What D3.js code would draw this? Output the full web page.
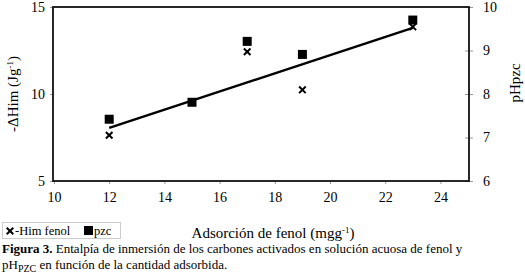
<!DOCTYPE html>
<html>
<head>
<meta charset="utf-8">
<script src="https://cdn.jsdelivr.net/npm/d3@7"></script>
<style>
body{margin:0;background:#fff}
</style>
</head>
<body>
<div id="chart"></div>
<script>
// data
const adsorcion=[12,15,17,19,23]
const himFenol=[7.63,9.53,12.43,10.24,13.86]
const pzc=[7.42,7.81,9.21,8.91,9.70]
const trendX=[12,23]
const trendY=[8.05,13.8]
const xTicks=[10,12,14,16,18,20,22,24]
const yTicks=[5,10,15]
const y2Ticks=[6,7,8,9,10]

const width=525,height=280
const plot={left:53,right:469,top:7,bottom:181}
const serif="Liberation Serif"

const svg=d3.select("#chart").append("svg").attr("width",width).attr("height",height)
	.attr("font-family",serif)

let x=d3.scaleLinear().domain([10,25]).range([plot.left+1,plot.right-1])
let y=d3.scaleLinear().domain([5,15]).range([plot.bottom,plot.top])
let y2=d3.scaleLinear().domain([6,10]).range([plot.bottom,plot.top])

//axes
svg.append("g")
	.attr("transform",`translate(0,${plot.bottom})`)
	.call(d3.axisBottom(x).tickValues(xTicks).tickSize(3).tickPadding(8).tickFormat(d3.format("d")))
	.attr("font-family",serif).attr("font-size",14)
	.call(g=>g.select(".domain").remove())
	.call(g=>g.selectAll("line").attr("stroke","#999"))

svg.append("g")
	.attr("transform",`translate(${plot.left},0)`)
	.call(d3.axisLeft(y).tickValues(yTicks).tickSize(3).tickPadding(5))
	.attr("font-family",serif).attr("font-size",14)
	.call(g=>g.select(".domain").remove())
	.call(g=>g.selectAll("line").attr("stroke","#999"))

svg.append("g")
	.attr("transform",`translate(${plot.right},0)`)
	.call(d3.axisRight(y2).tickValues(y2Ticks).tickSize(4).tickPadding(10).tickFormat(d3.format("d")))
	.attr("font-family",serif).attr("font-size",14)
	.call(g=>g.select(".domain").remove())
	.call(g=>g.selectAll("line").attr("stroke","#999").attr("x1",-4))

// plot frame
svg.append("rect")
	.attr("x",plot.left).attr("y",plot.top)
	.attr("width",plot.right-plot.left).attr("height",plot.bottom-plot.top)
	.attr("fill","none").attr("stroke","#111").attr("stroke-width",1.8)

// trend line
svg.append("line")
	.attr("x1",x(trendX[0])).attr("y1",y(trendY[0]))
	.attr("x2",x(trendX[1])).attr("y2",y(trendY[1]))
	.attr("stroke","#000").attr("stroke-width",2.4)

// crosses
const cross=d3.symbol().type(d3.symbolX).size(30)
svg.selectAll(".cross")
	.data(adsorcion)
	.enter().append("path")
	.attr("class","cross")
	.attr("d",cross)
	.attr("transform",(d,i)=>`translate(${x(d)},${y(himFenol[i])})`)
	.attr("stroke","#000").attr("stroke-width",2).attr("fill","none")

// squares
svg.selectAll(".sq")
	.data(adsorcion)
	.enter().append("rect")
	.attr("class","sq")
	.attr("x",d=>x(d)-4.5)
	.attr("y",(d,i)=>y2(pzc[i])-4.5)
	.attr("width",9).attr("height",9)
	.attr("fill","#000")

// axis titles
svg.append("text")
	.attr("transform",`translate(18,${(plot.top+plot.bottom)/2}) rotate(-90)`)
	.attr("text-anchor","middle").attr("font-size",15)
	.html('-ΔHim (Jg<tspan dy="-5" font-size="9">-1</tspan><tspan dy="5">)</tspan>')

svg.append("text")
	.attr("transform",`translate(520,83) rotate(-90)`)
	.attr("text-anchor","middle").attr("font-size",15)
	.text("pHpzc")

svg.append("text")
	.attr("x",273).attr("y",238)
	.attr("text-anchor","middle").attr("font-size",15)
	.html('Adsorción de fenol (mgg<tspan dy="-5" font-size="9">-1</tspan><tspan dy="5">)</tspan>')

// legend
const legend=svg.append("g")
legend.append("rect")
	.attr("x",2.5).attr("y",222.5).attr("width",118).attr("height",16)
	.attr("fill","none").attr("stroke","#999").attr("stroke-width",1).attr("stroke-dasharray","1,1")
legend.append("path")
	.attr("d",cross).attr("transform","translate(10,231)")
	.attr("stroke","#000").attr("stroke-width",2).attr("fill","none")
legend.append("text").attr("x",15).attr("y",235).attr("font-size",12.5).text("-Him fenol")
legend.append("rect").attr("x",84).attr("y",226).attr("width",9).attr("height",9).attr("fill","#000")
legend.append("text").attr("x",94).attr("y",235).attr("font-size",12.5).text("pzc")

// caption
const cap=svg.append("g").attr("font-size",13)
cap.append("text").attr("x",2).attr("y",253)
	.html('<tspan font-weight="bold">Figura 3.</tspan> Entalpía de inmersión de los carbones activados en solución acuosa de fenol y')
cap.append("text").attr("x",2).attr("y",269)
	.html('pH<tspan dy="3" font-size="10">PZC</tspan><tspan dy="-3"> en función de  la cantidad adsorbida.</tspan>')
</script>
</body>
</html>
